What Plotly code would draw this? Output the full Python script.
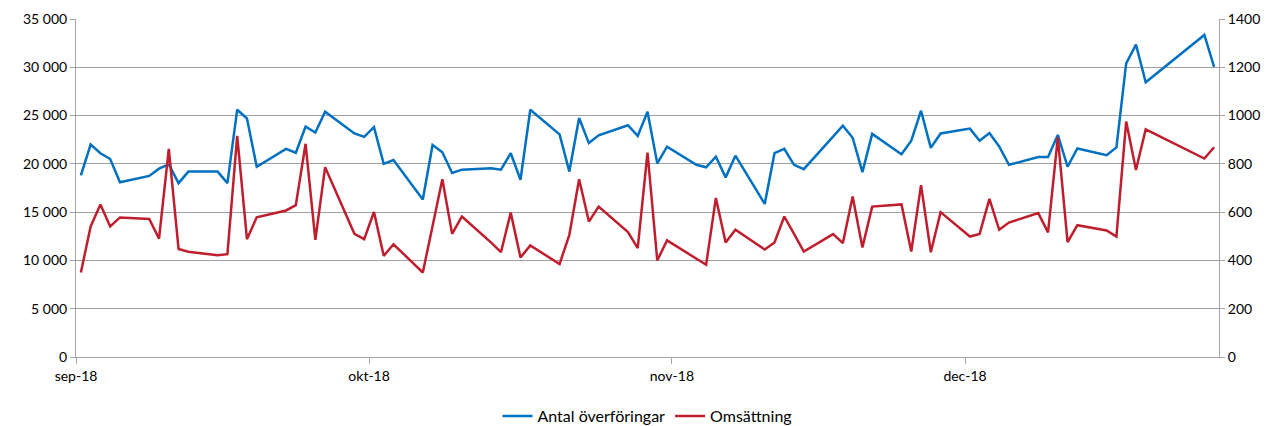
import plotly.graph_objs as go

# handelsdagar sep-dec 2018 (utan jul)
dates = [
    '2018-09-03', '2018-09-04', '2018-09-05', '2018-09-06', '2018-09-07',
    '2018-09-10', '2018-09-11', '2018-09-12', '2018-09-13', '2018-09-14',
    '2018-09-17', '2018-09-18', '2018-09-19', '2018-09-20', '2018-09-21',
    '2018-09-24', '2018-09-25', '2018-09-26', '2018-09-27', '2018-09-28',
    '2018-10-01', '2018-10-02', '2018-10-03', '2018-10-04', '2018-10-05',
    '2018-10-08', '2018-10-09', '2018-10-10', '2018-10-11', '2018-10-12',
    '2018-10-15', '2018-10-16', '2018-10-17', '2018-10-18', '2018-10-19',
    '2018-10-22', '2018-10-23', '2018-10-24', '2018-10-25', '2018-10-26',
    '2018-10-29', '2018-10-30', '2018-10-31', '2018-11-01', '2018-11-02',
    '2018-11-05', '2018-11-06', '2018-11-07', '2018-11-08', '2018-11-09',
    '2018-11-12', '2018-11-13', '2018-11-14', '2018-11-15', '2018-11-16',
    '2018-11-19', '2018-11-20', '2018-11-21', '2018-11-22', '2018-11-23',
    '2018-11-26', '2018-11-27', '2018-11-28', '2018-11-29', '2018-11-30',
    '2018-12-03', '2018-12-04', '2018-12-05', '2018-12-06', '2018-12-07',
    '2018-12-10', '2018-12-11', '2018-12-12', '2018-12-13', '2018-12-14',
    '2018-12-17', '2018-12-18', '2018-12-19', '2018-12-20', '2018-12-21',
    '2018-12-27', '2018-12-28',
]

antal = [
    18800, 22000, 21100, 20500, 18100, 18750, 19500, 19950, 18000, 19200,
    19200, 18000, 25600, 24700, 19700, 21550, 21150, 23850, 23250, 25400,
    23150, 22800, 23800, 20000, 20400, 16300, 21950, 21200, 19050, 19400,
    19550, 19400, 21100, 18350, 25600, 23050, 19200, 24750, 22150, 22950,
    24000, 22900, 25400, 20050, 21780, 19900, 19650, 20750, 18600, 20850,
    15850, 21100, 21550, 19900, 19450, 22850, 23950, 22700, 19150, 23100,
    21000, 22400, 25500, 21650, 23150, 23650, 22400, 23200, 21800, 19900,
    20700, 20700, 23000, 19700, 21600, 20900, 21700, 30400, 32350, 28450,
    33350, 30050,
]

omsattning = [
    350, 541, 632, 541, 578, 572, 490, 862, 447, 436,
    421, 426, 916, 488, 579, 607, 629, 883, 485, 786,
    510, 488, 601, 419, 467, 350, 543, 736, 510, 582,
    474, 434, 598, 412, 462, 385, 506, 736, 561, 623,
    517, 451, 847, 400, 483, 408, 382, 659, 474, 527,
    445, 474, 582, 510, 437, 509, 472, 665, 454, 623,
    632, 437, 712, 434, 600, 499, 510, 655, 527, 557,
    596, 516, 910, 476, 546, 524, 499, 975, 775, 943,
    822, 869,
]

month_ticks = ['2018-09-02 12:00', '2018-10-02 12:00', '2018-11-02 12:00', '2018-12-02 12:00']
month_labels = ['sep-18', 'okt-18', 'nov-18', 'dec-18']

fig = go.Figure()

fig.add_trace(go.Scatter(
    x=dates,
    y=antal,
    name='Antal överföringar',
    mode='lines',
    line=dict(color='#0070C0', width=2.5),
))

fig.add_trace(go.Scatter(
    x=dates,
    y=omsattning,
    name='Omsättning',
    mode='lines',
    line=dict(color='#BE1E2D', width=2.5),
    yaxis='y2',
))

# sidan har 8 px marginal i body, margins kompenserar
fig.update_layout(
    width=1275,
    height=426,
    margin=dict(l=68, r=64, t=11, b=77, autoexpand=False),
    paper_bgcolor='white',
    plot_bgcolor='white',
    separators=', ',
    font=dict(family='Lato, Open Sans, sans-serif', size=14, color='#000000'),
    showlegend=True,
    legend=dict(
        orientation='h',
        x=0.5,
        xanchor='center',
        y=-0.175,
        yanchor='middle',
        font=dict(size=16),
        itemwidth=30,
        traceorder='normal',
    ),
    xaxis=dict(
        type='date',
        range=['2018-09-02 12:00', '2018-12-28 12:00'],
        tickvals=month_ticks,
        ticktext=month_labels,
        showgrid=False,
        showline=True,
        linecolor='#A6A6A6',
        linewidth=1,
        ticks='outside',
        ticklen=6,
        tickcolor='#A6A6A6',
        zeroline=False,
    ),
    yaxis=dict(
        range=[0, 35000],
        dtick=5000,
        tickformat=',d',
        showgrid=True,
        gridcolor='#A0A0A0',
        gridwidth=1,
        showline=True,
        linecolor='#A6A6A6',
        ticks='outside',
        ticklen=5,
        tickcolor='#A6A6A6',
        zeroline=False,
    ),
    yaxis2=dict(
        range=[0, 1400],
        dtick=200,
        tickformat='d',
        overlaying='y',
        side='right',
        showgrid=False,
        showline=True,
        linecolor='#A6A6A6',
        ticks='outside',
        ticklen=5,
        tickcolor='#A6A6A6',
        zeroline=False,
    ),
)

fig.write_html('out.html')
